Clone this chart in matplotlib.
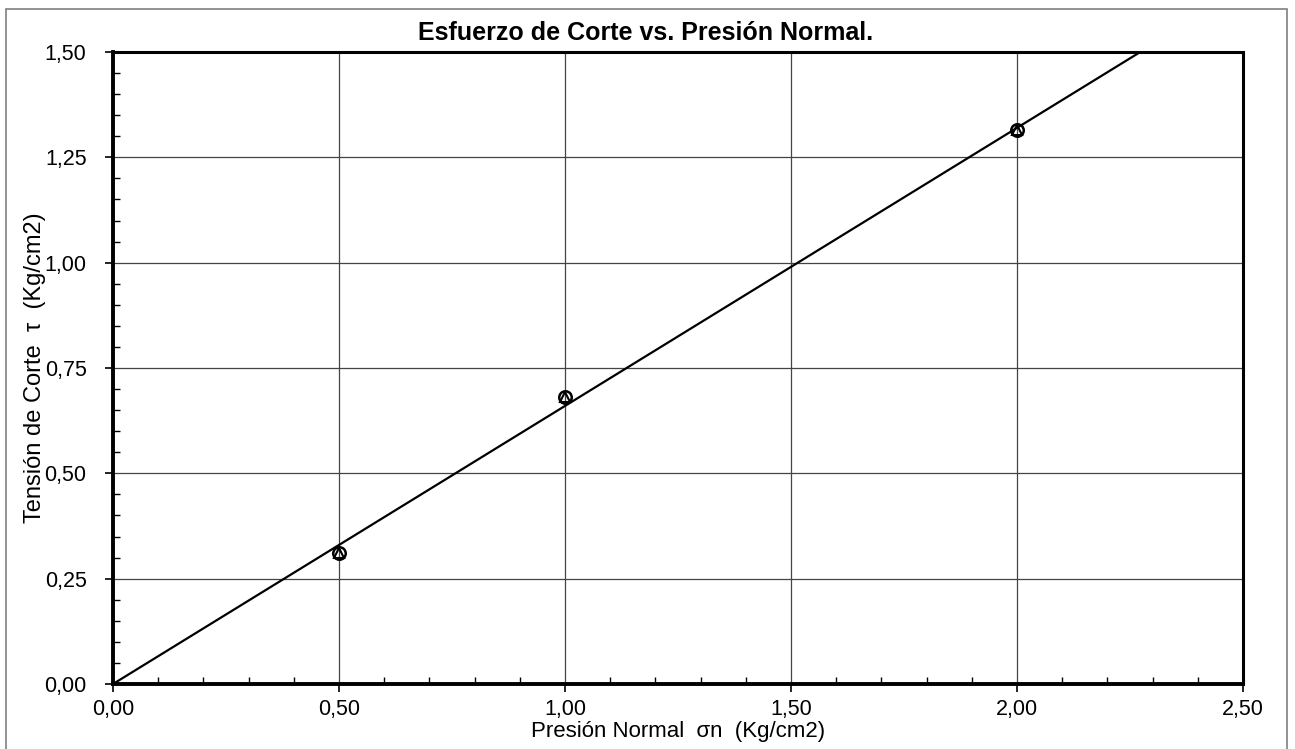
import matplotlib
matplotlib.use("Agg")
import matplotlib.pyplot as plt
from matplotlib.ticker import MultipleLocator, FuncFormatter
import numpy as np

# ─── Datos ────────────────────────────────────────────────────────────────────
presion_normal = [0.50, 1.00, 2.00]      # sigma_n (Kg/cm2)
tension_max = [0.31, 0.68, 1.315]        # tau (Kg/cm2) - circulos
tension_tri = [0.31, 0.68, 1.315]        # tau (Kg/cm2) - triangulos
cohesion = 0.0
pendiente = 0.66                          # tan(phi)

plt.rcParams['font.family'] = ['Liberation Sans', 'DejaVu Sans']


def coma(v, pos=None):
    return f"{v:.2f}".replace('.', ',')


fig = plt.figure(figsize=(12.95, 7.49), dpi=100)
ax = fig.add_axes([113 / 1295, 65 / 749, 1130 / 1295, 632 / 749])

# marco exterior
fig.patches.append(plt.Rectangle((6 / 1295, -0.05), 1281 / 1295, 1 - 9 / 749 + 0.05,
                                 transform=fig.transFigure, fill=False,
                                 edgecolor='#7f7f7f', linewidth=1.2))

# recta de envolvente
xs = np.array([0.0, 2.5])
ax.plot(xs, cohesion + pendiente * xs, color='black', lw=1.6, zorder=3)

ax.plot(presion_normal, tension_max, linestyle='none', marker='o', ms=9,
        mfc='none', mec='black', mew=1.8, zorder=4)
ax.plot(presion_normal, tension_tri, linestyle='none', marker='^', ms=7,
        mfc='none', mec='black', mew=1.5, zorder=4)

ax.set_xlim(0, 2.5)
ax.set_ylim(0, 1.5)
ax.xaxis.set_major_locator(MultipleLocator(0.5))
ax.xaxis.set_minor_locator(MultipleLocator(0.1))
ax.yaxis.set_major_locator(MultipleLocator(0.25))
ax.yaxis.set_minor_locator(MultipleLocator(0.05))
ax.xaxis.set_major_formatter(FuncFormatter(coma))
ax.yaxis.set_major_formatter(FuncFormatter(coma))

ax.tick_params(which='major', direction='out', length=6, width=1.2,
               labelsize=15.5)
ax.tick_params(axis='x', which='major', pad=5)
ax.tick_params(axis='y', which='major', pad=13)
ax.tick_params(which='minor', direction='in', length=5, width=1.0)
ax.grid(which='major', color='#444444', linewidth=0.9)

for s in ['left', 'bottom']:
    ax.spines[s].set_linewidth(2.8)
for s in ['top', 'right']:
    ax.spines[s].set_linewidth(2.2)

fig.text(646 / 1295, 1 - 33 / 749, "Esfuerzo de Corte vs. Presión Normal.",
         fontsize=18, fontweight='bold', ha='center', va='center')
ax.set_xlabel("Presión Normal  σn  (Kg/cm2)", fontsize=16)
ax.xaxis.set_label_coords(0.5, -0.058)
ax.set_ylabel("Tensión de Corte  τ  (Kg/cm2)", fontsize=17)
ax.yaxis.set_label_coords(-0.059, 0.5)

fig.savefig("out.png", dpi=100)
